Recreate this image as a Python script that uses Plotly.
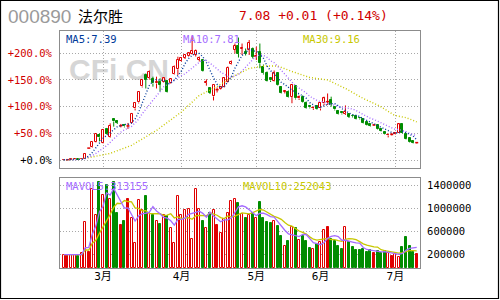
import plotly.graph_objects as go
import pandas as pd

# ---------------- data ----------------
day_index = list(range(100))
open_price = [5.36, 5.37, 5.37, 5.42, 5.44, 5.40, 5.47, 6.53, 6.60, 7.17,
              7.85, 7.05, 8.48, 7.61, 9.40, 9.20, 8.78, 8.85, 8.75, 9.05,
              10.50, 11.10, 12.70, 13.85, 13.52, 13.42, 13.00, 13.18, 13.18, 13.25,
              13.01, 13.95, 14.42, 15.30, 15.55, 15.80, 16.00, 15.90, 15.40, 15.35,
              13.05, 12.50, 11.70, 12.38, 12.45, 12.68, 13.18, 14.95, 16.35, 16.80,
              16.45, 16.20, 16.35, 16.42, 15.70, 16.18, 14.69, 14.08, 13.55, 13.28,
              14.08, 12.61, 12.15, 12.18, 11.68, 12.75, 11.50, 11.68, 11.08, 10.70,
              10.50, 10.75, 10.50, 11.00, 11.18, 11.35, 10.62, 10.20, 10.10, 9.95,
              9.95, 9.78, 9.70, 9.55, 9.42, 9.10, 8.90, 8.85, 8.84, 8.45,
              8.10, 7.80, 7.90, 7.90, 8.08, 8.91, 7.94, 7.50, 7.20, 7.08]
high_price = [5.38, 5.39, 5.44, 5.46, 5.45, 5.48, 5.98, 6.53, 7.18, 7.90,
              8.00, 8.45, 8.55, 9.01, 9.51, 9.30, 8.95, 8.95, 9.05, 10.05,
              11.10, 12.16, 13.38, 14.00, 14.30, 13.68, 13.68, 13.52, 13.60, 13.30,
              13.50, 14.80, 15.68, 15.65, 15.90, 16.10, 17.80, 16.40, 15.70, 15.40,
              13.42, 12.60, 12.90, 12.60, 12.70, 13.60, 14.70, 15.30, 17.00, 17.60,
              17.00, 16.50, 17.35, 16.60, 16.68, 17.00, 14.90, 14.20, 13.60, 14.30,
              14.10, 12.70, 12.35, 12.30, 12.90, 12.80, 11.80, 11.80, 11.20, 10.85,
              10.70, 10.80, 11.10, 11.68, 12.00, 11.68, 10.70, 10.30, 10.20, 10.80,
              10.00, 9.90, 9.75, 9.65, 9.50, 9.15, 8.95, 8.95, 8.90, 8.50,
              8.15, 8.00, 8.05, 8.10, 8.95, 8.95, 8.00, 7.55, 7.25, 7.12]
low_price = [5.34, 5.35, 5.36, 5.40, 5.36, 5.38, 5.45, 6.53, 6.55, 7.10,
             7.20, 7.00, 7.90, 7.55, 8.68, 8.95, 8.60, 8.60, 8.45, 9.00,
             10.30, 11.00, 12.60, 12.50, 13.40, 12.68, 12.50, 12.18, 13.10, 12.10,
             12.95, 13.90, 13.85, 15.20, 15.45, 15.70, 15.90, 15.70, 15.20, 14.15,
             12.78, 11.95, 11.30, 12.10, 12.40, 12.60, 13.10, 14.90, 16.00, 15.60,
             15.85, 15.80, 15.85, 15.50, 15.35, 14.52, 13.90, 13.20, 13.15, 13.20,
             12.80, 12.00, 12.00, 11.60, 11.02, 11.40, 11.35, 11.10, 10.45, 10.50,
             10.35, 10.35, 10.30, 10.80, 10.85, 10.68, 10.30, 9.90, 9.90, 9.85,
             9.55, 9.60, 9.40, 9.40, 9.00, 8.80, 8.65, 8.75, 8.40, 8.20,
             7.90, 7.60, 7.80, 7.85, 8.05, 8.00, 7.40, 7.10, 7.00, 7.00]
close_price = [5.37, 5.37, 5.42, 5.44, 5.38, 5.46, 5.94, 6.53, 7.18, 7.90,
               7.60, 8.34, 7.94, 8.78, 9.20, 9.05, 8.78, 8.70, 8.75, 9.95,
               11.05, 12.15, 13.35, 13.35, 14.18, 13.01, 13.18, 12.85, 13.52, 12.18,
               13.42, 14.69, 15.35, 15.60, 15.85, 16.02, 16.30, 16.25, 15.60, 14.20,
               13.15, 12.05, 12.85, 12.38, 12.60, 13.52, 14.58, 15.18, 16.75, 16.00,
               16.55, 16.00, 17.08, 15.68, 15.80, 15.02, 14.02, 13.28, 13.30, 14.08,
               12.85, 12.08, 12.20, 11.68, 12.85, 11.50, 11.60, 11.18, 10.51, 10.60,
               10.52, 10.41, 11.00, 11.50, 11.18, 10.85, 10.40, 9.95, 10.00, 10.18,
               9.65, 9.72, 9.45, 9.50, 9.05, 8.85, 8.70, 8.85, 8.45, 8.28,
               7.95, 7.88, 7.90, 8.05, 8.91, 8.08, 7.45, 7.15, 7.07, 7.08]
volume = [195000, 195000, 195000, 195000, 170000, 230000, 770000, 245000, 1340000, 890000,
          1460000, 1240000, 1400000, 1160000, 1460000, 910000, 710000, 780000, 1170000, 830000,
          404000, 1150000, 977000, 1210000, 919000, 890000, 772000, 732000, 890000, 860000,
          656000, 404000, 1220000, 890000, 977000, 990000, 469000, 1330000, 990000, 784000,
          656000, 915000, 977000, 710000, 575000, 810000, 919000, 1135000, 1165000, 1100000,
          900000, 825000, 888000, 919000, 831000, 1106000, 831000, 766000, 743000, 784000,
          697000, 521000, 346000, 434000, 667000, 650000, 450000, 521000, 434000, 317000,
          288000, 375000, 420000, 626000, 679000, 463000, 434000, 346000, 299000, 679000,
          416000, 329000, 276000, 276000, 299000, 241000, 276000, 217000, 258000, 217000,
          258000, 217000, 171000, 200000, 154000, 329000, 493000, 346000, 241000, 200000]
# MA30 (its window reaches before the first visible day)
ma30_day = [0, 6, 13, 19, 26, 33, 38, 43, 48, 52, 56, 60, 64, 69, 74, 79, 84, 88.6, 92.8, 96, 99]
ma30_value = [5.34, 5.50, 6.00, 6.80, 8.30, 10.15, 11.80, 12.70, 13.80, 14.50, 14.75,
              14.75, 14.20, 13.60, 13.35, 12.50, 11.50, 10.75, 9.80, 9.58, 9.16]

month_day = [11, 33, 54, 72, 93]
month_label = ["3月", "4月", "5月", "6月", "7月"]
grid_month_day = [11, 33, 54, 93]
price_ticks = [5.34, 8.01, 10.68, 13.35, 16.02]
pct_labels = ["+0.0%", "+50.0%", "+100.0%", "+150.0%", "+200.0%"]
vol_ticks = [200000, 600000, 1000000, 1400000]

stock_code = "000890"
stock_name = "法尔胜"
quote_text = "7.08 +0.01 (+0.14%)"
ma_legend = ["MA5:7.39", "MA10:7.81", "MA30:9.16"]
vol_legend = ["MAVOL5:313155", "MAVOL10:252043"]

# ---------------- styles ----------------
RED = "#e00000"
GREEN = "#008c00"
MA5_C = "#003a9a"
MA10_C = "#a56cff"
MA30_C = "#c8c800"
GRID_C = "#a8a8a8"
FRAME_C = "#8c8c8c"
MONO = "DejaVu Sans Mono"
W, H = 500, 300

X_RANGE = [-1.07, 99.92]
P_RANGE = [4.539, 18.253]
V_RANGE = [-38000, 1527000]
PLOT_L, PLOT_R = 60, 420
PX_PER_DAY = (PLOT_R - PLOT_L) / (X_RANGE[1] - X_RANGE[0])
BODY_W = 2.0 / PX_PER_DAY   # 2 px between stroke centres -> red|white|red

def px_x(p):
    return p / W

def px_y(p):
    return 1 - p / H

close_s = pd.Series(close_price)
ma5 = close_s.rolling(5, min_periods=1).mean()
ma10 = close_s.rolling(10, min_periods=1).mean()
vol_s = pd.Series(volume)
mavol5 = vol_s.rolling(5, min_periods=1).mean()
mavol10 = vol_s.rolling(10, min_periods=1).mean()

kind = []
for o, c in zip(open_price, close_price):
    kind.append("up" if c > o else ("down" if c < o else "flat"))

fig = go.Figure()

# ---- candle bodies ----
up_i = [i for i in day_index if kind[i] == "up"]
dn_i = [i for i in day_index if kind[i] == "down"]
fl_i = [i for i in day_index if kind[i] == "flat"]

fig.add_trace(go.Bar(x=up_i, y=[close_price[i] - open_price[i] for i in up_i],
                     base=[open_price[i] for i in up_i], width=BODY_W,
                     marker=dict(color="white", line=dict(color=RED, width=1)),
                     xaxis="x", yaxis="y"))
fig.add_trace(go.Bar(x=dn_i, y=[open_price[i] - close_price[i] for i in dn_i],
                     base=[close_price[i] for i in dn_i], width=BODY_W,
                     marker=dict(color=GREEN, line=dict(color=GREEN, width=1)),
                     xaxis="x", yaxis="y"))

# ---- wicks ----
def wick_xy(idx):
    xs, ys = [], []
    for i in idx:
        lo_b = min(open_price[i], close_price[i])
        hi_b = max(open_price[i], close_price[i])
        xs += [i, i, None, i, i, None]
        ys += [low_price[i], lo_b, None, hi_b, high_price[i], None]
    return xs, ys

wx, wy = wick_xy(up_i + fl_i)
fig.add_trace(go.Scatter(x=wx, y=wy, mode="lines", line=dict(color=RED, width=1),
                         xaxis="x", yaxis="y", hoverinfo="skip"))
wx, wy = wick_xy(dn_i)
fig.add_trace(go.Scatter(x=wx, y=wy, mode="lines", line=dict(color=GREEN, width=1),
                         xaxis="x", yaxis="y", hoverinfo="skip"))
# flat (open == close) bodies as short horizontal strokes
fx, fy = [], []
for i in fl_i:
    fx += [i - BODY_W * 0.75, i + BODY_W * 0.75, None]
    fy += [close_price[i], close_price[i], None]
fig.add_trace(go.Scatter(x=fx, y=fy, mode="lines", line=dict(color=RED, width=1.5),
                         xaxis="x", yaxis="y", hoverinfo="skip"))

# ---- moving averages ----
DOT = "1px,2px"
fig.add_trace(go.Scatter(x=ma30_day, y=ma30_value, mode="lines",
                         line=dict(color=MA30_C, width=1.4, dash=DOT), xaxis="x", yaxis="y"))
fig.add_trace(go.Scatter(x=day_index, y=ma10, mode="lines",
                         line=dict(color=MA10_C, width=1.4, dash=DOT), xaxis="x", yaxis="y"))
fig.add_trace(go.Scatter(x=day_index, y=ma5, mode="lines",
                         line=dict(color=MA5_C, width=1.4, dash=DOT), xaxis="x", yaxis="y"))

# ---- volume bars ----
def vol_bar(idx, fill, line):
    fig.add_trace(go.Bar(x=idx, y=[volume[i] - V_RANGE[0] for i in idx],
                         base=[V_RANGE[0]] * len(idx), width=BODY_W,
                         marker=dict(color=fill, line=dict(color=line, width=1)),
                         xaxis="x2", yaxis="y3"))

vol_bar(up_i, "white", RED)
vol_bar(dn_i, GREEN, GREEN)
vol_bar(fl_i, RED, RED)

fig.add_trace(go.Scatter(x=day_index, y=mavol10, mode="lines",
                         line=dict(color=MA30_C, width=1.3), xaxis="x2", yaxis="y3"))
fig.add_trace(go.Scatter(x=day_index, y=mavol5, mode="lines",
                         line=dict(color=MA10_C, width=1.3), xaxis="x2", yaxis="y3"))

# ---------------- layout ----------------
x_dom = [px_x(PLOT_L), px_x(PLOT_R)]
up_dom = [px_y(168), px_y(31)]
lo_dom = [px_y(268), px_y(178)]
tick_font = dict(family=MONO, size=10.5, color="#d00000")

fig.update_layout(
    width=W, height=H, autosize=False,
    margin=dict(l=0, r=0, t=0, b=0, pad=0),
    paper_bgcolor="white", plot_bgcolor="white",
    showlegend=False, barmode="overlay", bargap=0, bargroupgap=0,
    xaxis=dict(domain=x_dom, anchor="y", range=X_RANGE, tickvals=grid_month_day,
               showticklabels=False, ticks="", showgrid=True, gridcolor=GRID_C,
               griddash=DOT, gridwidth=1, zeroline=False, showline=True, mirror=True,
               linecolor=FRAME_C, linewidth=1),
    yaxis=dict(domain=up_dom, anchor="x", range=P_RANGE, tickvals=price_ticks,
               ticktext=['<span style="color:#000000">' + pct_labels[0] + '</span>'] + pct_labels[1:],
               tickfont=tick_font, ticks="", ticklabelstandoff=5,
               showgrid=True, gridcolor=GRID_C, griddash=DOT, gridwidth=1,
               zeroline=False, showline=True, mirror=True, linecolor=FRAME_C, linewidth=1),
    yaxis2=dict(overlaying="y", anchor="x", side="right", range=P_RANGE, tickvals=price_ticks,
                ticktext=['<span style="color:#000000">%.2f</span>' % price_ticks[0]] +
                         ["%.2f" % v for v in price_ticks[1:]],
                tickfont=tick_font, ticks="", ticklabelstandoff=2,
                showgrid=False, zeroline=False, showline=False),
    xaxis2=dict(domain=x_dom, anchor="y3", range=X_RANGE, tickvals=month_day,
                ticktext=month_label, tickfont=dict(family=MONO + ", Noto Sans CJK SC",
                                                    size=11, color="#000000"),
                ticks="", ticklabelstandoff=-2, showgrid=False, zeroline=False,
                showline=True, mirror=True, linecolor=FRAME_C, linewidth=1),
    xaxis3=dict(overlaying="x2", anchor="y3", range=X_RANGE, tickvals=grid_month_day,
                showticklabels=False, ticks="", showgrid=True, gridcolor=GRID_C,
                griddash=DOT, gridwidth=1, zeroline=False, showline=False),
    yaxis3=dict(domain=lo_dom, anchor="x2", side="right", range=V_RANGE, tickvals=vol_ticks,
                ticktext=[str(v) for v in vol_ticks],
                tickfont=dict(family=MONO, size=10.5, color="#000000"),
                ticks="", ticklabelstandoff=4, showgrid=True, gridcolor=GRID_C,
                griddash=DOT, gridwidth=1, zeroline=False, showline=True, mirror=True,
                linecolor=FRAME_C, linewidth=1),
)

def note(text, x, y, color, size=10.5, family=MONO):
    fig.add_annotation(text=text, x=px_x(x), y=px_y(y), xref="paper", yref="paper",
                       xanchor="left", yanchor="middle", showarrow=False, borderpad=0,
                       font=dict(family=family, size=size, color=color))

note(stock_code, 7, 16.5, "#9a9a9a", size=19, family="Liberation Sans")
note(stock_name, 77, 15.5, "#000000", size=15, family="Noto Sans CJK SC")
note(quote_text, 238, 15, "#d00000", size=13)
note(ma_legend[0], 65, 39, MA5_C)
note(ma_legend[1], 182, 39, MA10_C)
note(ma_legend[2], 302, 39, MA30_C)
note(vol_legend[0], 65, 186, MA10_C)
note(vol_legend[1], 242, 186, MA30_C)

# watermark behind the candles
fig.add_shape(type="rect", xref="paper", yref="paper", layer="below",
              x0=px_x(68), x1=px_x(170), y0=px_y(78), y1=px_y(54),
              line=dict(width=0), fillcolor="rgba(0,0,0,0)",
              label=dict(text="<b>CFi.CN</b>", textposition="middle center",
                         font=dict(family="Liberation Sans", size=30, color="#d6d6d6")))

# outer frame
fig.add_shape(type="rect", xref="paper", yref="paper", layer="above",
              x0=px_x(0.5), x1=px_x(498.5), y0=px_y(298.5), y1=px_y(0.5),
              line=dict(color="#000000", width=1.2), fillcolor="rgba(0,0,0,0)")

fig.write_html("out.html")
